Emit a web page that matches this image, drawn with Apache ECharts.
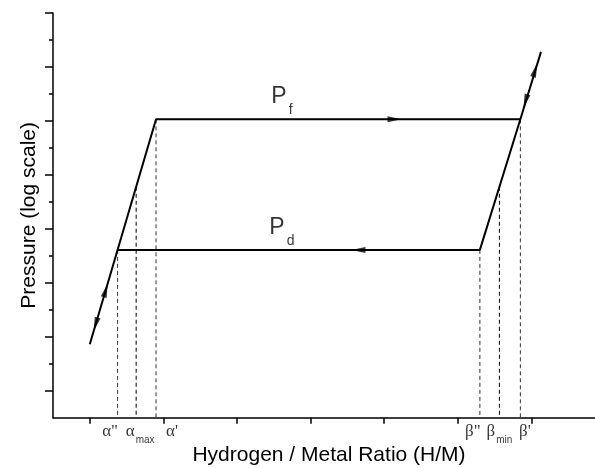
<!DOCTYPE html>
<html><head><meta charset="utf-8">
<script src="https://cdn.jsdelivr.net/npm/echarts@6/dist/echarts.min.js"></script>
<style>html,body{margin:0;padding:0;background:#fff}#c{width:595px;height:468px}</style>
</head><body><div id="c"></div>
<script>
// ---------- data (schematic units: x = H/M ratio units, y = log pressure units) ----------
const absorptionX = [0.00, 0.90, 5.85, 6.13];
const absorptionY = [0.86, 5.03, 5.03, 6.28];
const desorptionX = [5.85, 5.30, 0.378];
const desorptionY = [5.03, 2.61, 2.61];

const markerGreek = ['α', 'α', 'α', 'β', 'β', 'β'];
const markerSuffix = ['"', '', "'", '"', '', "'"];
const markerSub = ['', 'max', '', '', 'min', ''];
const markerX = [0.378, 0.63, 0.90, 5.30, 5.565, 5.85];
const markerTopY = [2.61, 3.78, 5.03, 2.61, 3.78, 5.03];

const arrowX = [0.216, 0.08, 4.14, 3.65, 6.05, 5.92];
const arrowY = [1.86, 1.23, 5.03, 2.61, 5.94, 5.37];
const arrowDir = ['up', 'down', 'right', 'left', 'up', 'down'];

const plateauSub = ['f', 'd'];
const plateauX = [2.61, 2.61];
const plateauY = [5.03, 2.61];

const xTicks = [0, 1, 2, 3, 4, 5, 6];
const yMajorTicks = [0, 1, 2, 3, 4, 5, 6, 7];
const yMinorTicks = [0.5, 1.5, 2.5, 3.5, 4.5, 5.5, 6.5];
const xMin = -0.5, xMax = 6.864, yMin = -0.5, yMax = 7;

// ---------- styles ----------
const SANS = 'Liberation Sans, Arial, sans-serif';
const SERIF = 'Liberation Serif, Times New Roman, serif';
const markerColor = ['#333', '#000', '#333', '#333', '#000', '#333'];
const labelShift = [-7.5, 4, 16, -7, 0, 4.5]; // px horizontal shift of marker labels

const markerRich = {
  g: {fontFamily: SERIF, fontSize: 17, color: '#000', height: 17, lineHeight: 17, verticalAlign: 'top'},
  s: {fontFamily: SANS, fontSize: 10, color: '#000', height: 10, lineHeight: 23, verticalAlign: 'bottom', padding: [0, 0, 0, 1]}
};
function markerText(i) {
  let s = '{g|' + markerGreek[i] + markerSuffix[i] + '}';
  if (markerSub[i]) s += '{s|' + markerSub[i] + '}';
  return s;
}

const series = [];
markerX.forEach((x, i) => {
  series.push({
    type: 'line', z: 1, silent: true, showSymbol: false, animation: false,
    data: [[x, markerTopY[i]], [x, yMin]],
    lineStyle: {color: markerColor[i], width: 1, type: [4, 3]}
  });
});
series.push({
  type: 'line', z: 3, showSymbol: false, animation: false,
  data: absorptionX.map((x, i) => [x, absorptionY[i]]),
  lineStyle: {color: '#000', width: 2}
});
series.push({
  type: 'line', z: 3, showSymbol: false, animation: false,
  data: desorptionX.map((x, i) => [x, desorptionY[i]]),
  lineStyle: {color: '#000', width: 2}
});
// marker labels below the axis
series.push({
  type: 'scatter', z: 5, animation: false, symbolSize: 0, silent: true,
  data: markerX.map((x, i) => ({value: [x, yMin],
    label: {formatter: markerText(i), offset: [labelShift[i], 0]}})),
  label: {show: true, position: 'bottom', distance: 5, rich: markerRich}
});
// plateau labels
series.push({
  type: 'scatter', z: 5, animation: false, symbolSize: 0, silent: true,
  data: plateauX.map((x, i) => ({value: [x, plateauY[i]],
    label: {formatter: '{p|P}{s|' + plateauSub[i] + '}'}})),
  label: {show: true, position: 'top', distance: 2,
    rich: {
      p: {fontFamily: SANS, fontSize: 23, color: '#000', height: 23, lineHeight: 23, verticalAlign: 'top'},
      s: {fontFamily: SANS, fontSize: 14, color: '#000', height: 14, lineHeight: 32, verticalAlign: 'bottom', padding: [0, 0, 0, 2]}
    }}
});
const arrowSeriesIndex = series.length;
series.push({
  type: 'scatter', z: 6, animation: false, symbol: 'triangle', symbolSize: [6, 14],
  itemStyle: {color: '#000'},
  data: arrowX.map((x, i) => [x, arrowY[i]])
});

const option = {
  animation: false,
  backgroundColor: '#fff',
  grid: {left: 53, right: 0, top: 13, bottom: 50.3, containLabel: false, outerBoundsMode: 'none'},
  xAxis: {
    type: 'value', min: xMin, max: xMax,
    axisLine: {show: true, onZero: false, lineStyle: {color: '#000', width: 1.5}},
    axisTick: {show: true, customValues: xTicks, length: 6, inside: false, lineStyle: {color: '#000', width: 1.5}},
    axisLabel: {show: false},
    splitLine: {show: false},
    name: 'Hydrogen / Metal Ratio (H/M)', nameLocation: 'middle', nameGap: 27,
    nameTextStyle: {fontFamily: SANS, fontSize: 21, color: '#000', padding: [0, 0, 0, 10]}
  },
  yAxis: [{
    type: 'value', min: yMin, max: yMax,
    axisLine: {show: true, onZero: false, lineStyle: {color: '#000', width: 1.5}},
    axisTick: {show: true, customValues: yMajorTicks, length: 8, lineStyle: {color: '#000', width: 1.5}},
    axisLabel: {show: false},
    splitLine: {show: false},
    name: 'Pressure (log scale)', nameLocation: 'middle', nameGap: 13, nameRotate: 90,
    nameTextStyle: {fontFamily: SANS, fontSize: 21, color: '#000'}
  }, {
    type: 'value', min: yMin, max: yMax, position: 'left', offset: 0,
    axisLine: {show: false, onZero: false},
    axisTick: {show: true, customValues: yMinorTicks, length: 4, lineStyle: {color: '#000', width: 1.5}},
    axisLabel: {show: false},
    splitLine: {show: false}
  }],
  series: series
};

const chart = echarts.init(document.getElementById('c'));
chart.setOption(option);

// orient arrows along the path segments they sit on (pixel space)
const segs = [];
function addSegs(xs, ys) {
  for (let i = 0; i < xs.length - 1; i++) segs.push([[xs[i], ys[i]], [xs[i + 1], ys[i + 1]]]);
}
addSegs(absorptionX, absorptionY);
addSegs(desorptionX, desorptionY);
const px = p => chart.convertToPixel({gridIndex: 0}, p);
function segDist(p, a, b) {
  const dx = b[0] - a[0], dy = b[1] - a[1];
  let t = ((p[0] - a[0]) * dx + (p[1] - a[1]) * dy) / (dx * dx + dy * dy);
  t = Math.max(0, Math.min(1, t));
  const qx = a[0] + t * dx - p[0], qy = a[1] + t * dy - p[1];
  return Math.sqrt(qx * qx + qy * qy);
}
const arrowData = arrowX.map((x, i) => {
  const p = px([x, arrowY[i]]);
  let best = null, bd = Infinity;
  segs.forEach(s => {
    const a = px(s[0]), b = px(s[1]);
    const d = segDist(p, a, b);
    if (d < bd) { bd = d; best = [a, b]; }
  });
  let dx = best[1][0] - best[0][0], dy = best[1][1] - best[0][1];
  const dir = arrowDir[i];
  if ((dir === 'up' && dy > 0) || (dir === 'down' && dy < 0) ||
      (dir === 'right' && dx < 0) || (dir === 'left' && dx > 0)) { dx = -dx; dy = -dy; }
  const rot = Math.atan2(-dx, -dy) * 180 / Math.PI;
  return {value: [x, arrowY[i]], symbolRotate: rot};
});
const upd = option.series.map(() => ({}));
upd[arrowSeriesIndex] = {data: arrowData};
chart.setOption({series: upd});
</script>
</body></html>
